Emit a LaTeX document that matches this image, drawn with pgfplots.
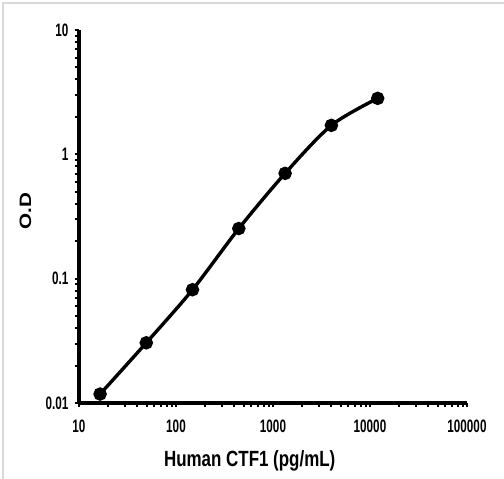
\documentclass[border=0pt]{standalone}
\usepackage{pgfplots}
\pgfplotsset{compat=1.18}
\usepackage{fontspec}
\setmainfont{Liberation Sans}
% the reference is stretched vertically, so the text is narrower than Arial
\newfontfamily\tickfont[FakeStretch=0.65]{Liberation Sans}
\newfontfamily\labfont[FakeStretch=0.77]{Liberation Sans}
\newfontfamily\ylabfont[FakeStretch=1.25]{Liberation Sans}

\begin{document}
\begin{tikzpicture}[x=1pt,y=1pt]
\useasboundingbox (0,0) rectangle (504,479);
% light frame of the original screenshot
\draw[black!15, line width=2.5pt] (3,0) -- (3,476) -- (504,476);
\begin{axis}[
    at={(79pt,76pt)}, anchor=south west,
    scale only axis,
    width=388pt, height=373pt,
    xmode=log, ymode=log,
    xmin=10, xmax=100000,
    ymin=0.01, ymax=10,
    axis lines*=left,
    axis line style={line width=3.5pt},
    every outer x axis line/.append style={line width=3.5pt},
    every outer y axis line/.append style={line width=3.5pt},
    tick align=outside,
    major tick length=4pt,
    minor tick length=4pt,
    tick style={line width=2pt, black},
    xtick={10,100,1000,10000,100000},
    xticklabels={10,100,1000,10000,100000},
    ytick={0.01,0.1,1,10},
    yticklabels={0.01,0.1,1,10},
    tick label style={font=\tickfont\fontsize{18}{20}\selectfont\bfseries},
    xticklabel style={yshift=-9pt},
    yticklabel style={xshift=-3pt},
    /pgf/number format/assume math mode=true,
    xlabel={Human CTF1 (pg/mL)},
    ylabel={O.D},
    xlabel style={font=\labfont\fontsize{22}{24}\selectfont\bfseries,
                  at={(axis description cs:0.44,-0.169)}, anchor=base},
    ylabel style={font=\ylabfont\fontsize{16.5}{18}\selectfont\bfseries,
                  at={(axis description cs:-0.138,0.515)}, anchor=center},
    clip=false,
]
\addplot[black, line width=3.4pt, smooth, mark=*, mark size=5pt,
         mark options={fill=black}] coordinates {
    (16.5,0.0118)
    (49.4,0.0305)
    (148,0.0815)
    (444,0.253)
    (1333,0.703)
    (4000,1.71)
    (12000,2.82)
};
\end{axis}
\end{tikzpicture}
\end{document}
